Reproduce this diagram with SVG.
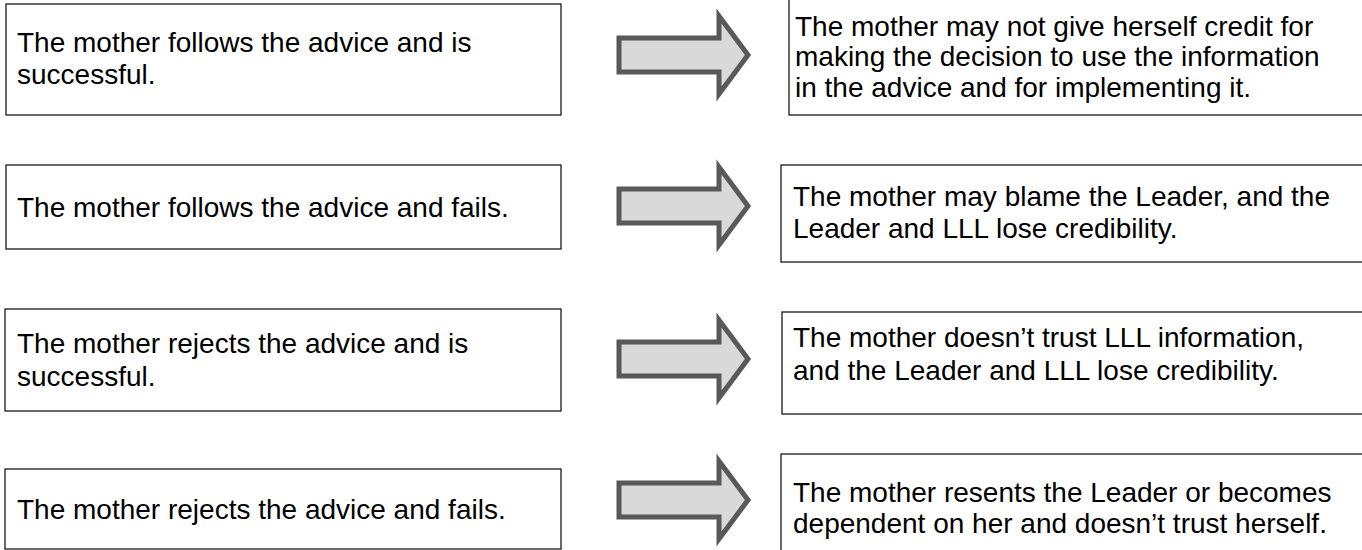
<svg xmlns="http://www.w3.org/2000/svg" width="1362" height="550" viewBox="0 0 1362 550">
<defs>
<style>
.box{fill:#fff;stroke:#1a1a1a;stroke-width:1.3}
.t{font-family:"Liberation Sans",Arial,sans-serif;font-size:28px;fill:#000}
.arr{fill:#d9d9d9;stroke:#595959;stroke-width:5;stroke-linejoin:miter}
</style>
<path id="arrowShape" d="M619,-17 H719 V-39 L748,0 L719,39 V17 H619 Z"/>
</defs>
<rect width="1362" height="550" fill="#fff"/>
<g id="connectors">
<use href="#arrowShape" class="arr" transform="translate(0,55)"/>
<use href="#arrowShape" class="arr" transform="translate(0,206)"/>
<use href="#arrowShape" class="arr" transform="translate(0,359)"/>
<use href="#arrowShape" class="arr" transform="translate(0,500)"/>
</g>
<g id="cause1"><rect class="box" x="6" y="4" width="555" height="111"/>
<text class="t" x="17" y="52">The mother follows the advice and is</text>
<text class="t" x="17" y="84">successful.</text></g>
<g id="effect1"><rect class="box" x="789" y="-5" width="580" height="120"/>
<text class="t" x="795" y="36">The mother may not give herself credit for</text>
<text class="t" x="795" y="66">making the decision to use the information</text>
<text class="t" x="795" y="97">in the advice and for implementing it.</text></g>
<g id="cause2"><rect class="box" x="6" y="165" width="555" height="84"/>
<text class="t" x="17" y="217">The mother follows the advice and fails.</text></g>
<g id="effect2"><rect class="box" x="781" y="165" width="590" height="97"/>
<text class="t" x="793" y="206">The mother may blame the Leader, and the</text>
<text class="t" x="793" y="238">Leader and LLL lose credibility.</text></g>
<g id="cause3"><rect class="box" x="5" y="309" width="556" height="102"/>
<text class="t" x="17" y="353">The mother rejects the advice and is</text>
<text class="t" x="17" y="386">successful.</text></g>
<g id="effect3"><rect class="box" x="782" y="312" width="590" height="102"/>
<text class="t" x="793" y="347">The mother doesn’t trust LLL information,</text>
<text class="t" x="793" y="380">and the Leader and LLL lose credibility.</text></g>
<g id="cause4"><rect class="box" x="5" y="469" width="556" height="80"/>
<text class="t" x="17" y="519">The mother rejects the advice and fails.</text></g>
<g id="effect4"><rect class="box" x="781" y="454" width="590" height="110"/>
<text class="t" x="793" y="502">The mother resents the Leader or becomes</text>
<text class="t" x="793" y="533">dependent on her and doesn’t trust herself.</text></g>
</svg>
